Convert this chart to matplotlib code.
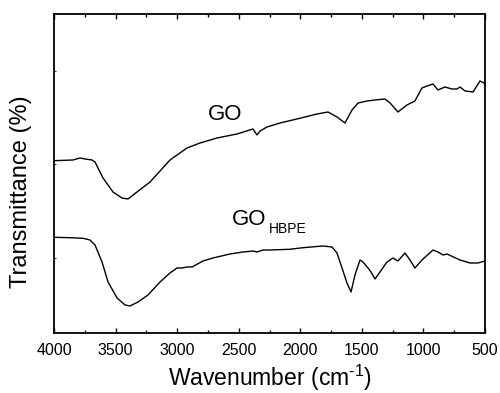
import matplotlib
matplotlib.use("Agg")
import matplotlib.pyplot as plt
from matplotlib.ticker import MultipleLocator, FixedLocator

plt.rcParams['font.family'] = ['Liberation Sans', 'DejaVu Sans']
plt.rcParams['mathtext.fontset'] = 'custom'
plt.rcParams['mathtext.rm'] = 'Liberation Sans'

# GO spectrum (wavenumber, transmittance in arbitrary units)
go_wn = [4000, 3846, 3789, 3748, 3691, 3667, 3602, 3521, 3448, 3399, 3326, 3220, 3058,
         2920, 2814, 2676, 2514, 2384, 2352, 2327, 2270, 2165, 2027, 1864, 1775, 1702,
         1637, 1580, 1531, 1458, 1393, 1312, 1271, 1207, 1134, 1069, 1012, 971, 922, 882,
         825, 768, 727, 703, 662, 597, 541, 508, 500]
go_t = [172.3, 173, 175, 174, 173, 171, 155, 141, 135, 134, 141, 151, 173,
        185, 190, 195, 199, 204, 198, 202, 206, 210, 214, 219, 221, 216,
        210, 223, 230, 232, 233, 234, 230, 221, 228, 232, 245, 247, 249, 243,
        246, 244, 244, 246, 242, 241, 252, 250, 248]

# GO-HBPE spectrum
hbpe_wn = [4000, 3870, 3764, 3708, 3667, 3610, 3561, 3488, 3423, 3383, 3318, 3237, 3139,
           3058, 3001, 2961, 2920, 2879, 2790, 2709, 2571, 2465, 2384, 2352, 2303, 2246,
           2084, 1978, 1816, 1742, 1702, 1661, 1621, 1588, 1556, 1515, 1491, 1450, 1426,
           1393, 1353, 1296, 1247, 1207, 1150, 1109, 1069, 1012, 922, 882, 841, 809, 703,
           622, 557, 500]
hbpe_t = [95.7, 95.3, 94.7, 93, 88, 71, 51, 35, 28, 27, 31, 38, 51,
          60, 65, 65, 66, 66, 72, 75, 79, 81, 82, 81, 83, 83,
          83.7, 85.3, 87, 86, 80, 65, 50, 41, 58, 73, 71, 65, 61,
          54, 61, 71, 75, 72, 80, 73, 65, 73, 83, 81, 78, 79, 73,
          70, 70, 72]

fig = plt.figure(figsize=(5.0, 3.93), dpi=100)
ax = fig.add_axes([0.108, 0.1527, 0.862, 0.8117])

ax.plot(go_wn, go_t, color='black', lw=1.0, solid_joinstyle='round')
ax.plot(hbpe_wn, hbpe_t, color='black', lw=1.0, solid_joinstyle='round')

ax.set_xlim(4000, 500)
ax.set_ylim(0, 319)

ax.xaxis.set_major_locator(MultipleLocator(500))
ax.xaxis.set_minor_locator(MultipleLocator(250))
ax.yaxis.set_major_locator(FixedLocator([75, 168.5, 262]))
ax.set_yticklabels([])
ax.tick_params(axis='x', which='major', direction='in', length=3.5, width=1.0,
               top=True, labelsize=11.5, pad=7)
ax.tick_params(axis='x', which='minor', direction='in', length=2, width=1.0, top=True)
ax.tick_params(axis='y', which='major', direction='in', length=1.5, width=0.6,
               left=True, right=False)
for s in ax.spines.values():
    s.set_linewidth(1.3)

ax.set_xlabel('Wavenumber (cm$^{\\text{-1}}$)', fontsize=16.5, labelpad=4)
ax.set_ylabel('Transmittance (%)', fontsize=17)
ax.yaxis.set_label_coords(-0.05, 0.442)

ax.text(2750, 213, 'GO', fontsize=16, va='baseline', ha='left')
ax.text(2555, 108, 'GO', fontsize=16, va='baseline', ha='left')
ax.text(2254, 100, 'HBPE', fontsize=10, va='baseline', ha='left')

fig.savefig('out.png', dpi=100)
